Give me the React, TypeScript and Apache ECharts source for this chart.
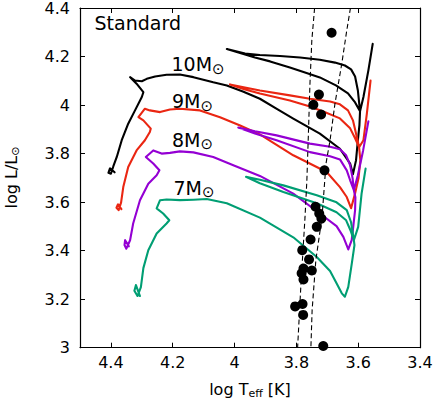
import React, { useEffect, useRef } from 'react';
import * as echarts from 'echarts';

// log Teff / log L tick values
const xTickValues = [3.4, 3.6, 3.8, 4.0, 4.2, 4.4];
const yTickValues = [3.0, 3.2, 3.4, 3.6, 3.8, 4.0, 4.2, 4.4];

// Evolutionary tracks [log Teff, log L/Lsun]
const track10: number[][] = [
  [4.388, 3.723], [4.403, 3.739], [4.408, 3.721], [4.4, 3.717], [4.392, 3.748], [4.381, 3.786],
  [4.365, 3.855], [4.344, 3.923], [4.322, 3.978], [4.3, 4.033], [4.295, 4.053], [4.317, 4.088],
  [4.333, 4.108], [4.338, 4.115], [4.322, 4.101], [4.3, 4.098], [4.284, 4.108], [4.257, 4.118],
  [4.22, 4.125], [4.177, 4.126], [4.133, 4.115], [4.069, 4.094], [4.025, 4.081], [3.973, 4.056],
  [3.918, 4.026], [3.866, 3.986], [3.81, 3.944], [3.724, 3.882], [3.659, 3.82], [3.626, 3.759],
  [3.617, 3.715], [3.607, 3.772], [3.601, 3.855], [3.596, 3.916], [3.594, 3.974], [3.61, 4.011],
  [3.633, 4.048], [3.672, 4.081], [3.724, 4.114], [3.772, 4.134], [3.821, 4.155], [3.885, 4.18],
  [3.934, 4.196], [3.982, 4.215], [4.025, 4.231], [3.966, 4.212], [3.918, 4.206], [3.853, 4.202],
  [3.788, 4.196], [3.724, 4.187], [3.675, 4.175], [3.643, 4.163], [3.623, 4.147], [3.61, 4.118],
  [3.601, 4.06], [3.594, 3.974], [3.583, 4.033], [3.567, 4.143], [3.553, 4.252]
];
const track9: number[][] = [
  [4.366, 3.571], [4.377, 3.591], [4.382, 3.577], [4.375, 3.567], [4.367, 3.599], [4.36, 3.662],
  [4.344, 3.745], [4.317, 3.813], [4.29, 3.855], [4.274, 3.889], [4.271, 3.903], [4.295, 3.937],
  [4.311, 3.95], [4.29, 3.985], [4.274, 3.978], [4.241, 3.971], [4.209, 3.982], [4.177, 3.985],
  [4.112, 3.978], [4.047, 3.95], [3.982, 3.916], [3.918, 3.879], [3.81, 3.793], [3.702, 3.724],
  [3.659, 3.662], [3.637, 3.621], [3.623, 3.575], [3.61, 3.636], [3.599, 3.698], [3.593, 3.772],
  [3.597, 3.826], [3.61, 3.863], [3.626, 3.904], [3.659, 3.945], [3.707, 3.97], [3.756, 3.994],
  [3.821, 4.019], [3.918, 4.048], [3.966, 4.064], [4.015, 4.085], [3.918, 4.06], [3.821, 4.04],
  [3.756, 4.026], [3.691, 4.015], [3.659, 4.003], [3.633, 3.978], [3.617, 3.937], [3.607, 3.883],
  [3.597, 3.826], [3.583, 3.855], [3.572, 3.964], [3.56, 4.101]
];
const track8: number[][] = [
  [4.342, 3.418], [4.354, 3.443], [4.356, 3.423], [4.35, 3.408], [4.338, 3.443], [4.328, 3.512],
  [4.306, 3.608], [4.279, 3.676], [4.252, 3.711], [4.243, 3.731], [4.263, 3.759], [4.287, 3.786],
  [4.263, 3.813], [4.236, 3.8], [4.209, 3.803], [4.177, 3.809], [4.133, 3.805], [4.069, 3.786],
  [4.004, 3.752], [3.918, 3.708], [3.81, 3.635], [3.724, 3.553], [3.67, 3.501], [3.648, 3.457],
  [3.632, 3.405], [3.621, 3.443], [3.616, 3.498], [3.61, 3.567], [3.609, 3.62], [3.614, 3.649],
  [3.626, 3.69], [3.637, 3.731], [3.659, 3.776], [3.691, 3.789], [3.756, 3.806], [3.864, 3.855],
  [3.934, 3.883], [3.988, 3.907], [3.934, 3.892], [3.864, 3.875], [3.756, 3.841], [3.691, 3.828],
  [3.659, 3.818], [3.639, 3.793], [3.626, 3.752], [3.618, 3.698], [3.614, 3.649], [3.601, 3.711],
  [3.584, 3.813], [3.567, 3.933]
];
const track7: number[][] = [
  [4.306, 3.213], [4.319, 3.258], [4.324, 3.235], [4.314, 3.213], [4.303, 3.25], [4.295, 3.328],
  [4.279, 3.402], [4.252, 3.471], [4.22, 3.512], [4.211, 3.525], [4.231, 3.553], [4.252, 3.574],
  [4.241, 3.608], [4.22, 3.611], [4.177, 3.608], [4.133, 3.61], [4.09, 3.613], [4.025, 3.595],
  [3.918, 3.536], [3.81, 3.455], [3.734, 3.374], [3.691, 3.316], [3.67, 3.266], [3.653, 3.224],
  [3.643, 3.21], [3.632, 3.251], [3.62, 3.353], [3.612, 3.423], [3.614, 3.443], [3.625, 3.484],
  [3.639, 3.525], [3.67, 3.558], [3.734, 3.595], [3.842, 3.642], [3.918, 3.678], [3.963, 3.704],
  [3.918, 3.692], [3.842, 3.669], [3.734, 3.628], [3.67, 3.599], [3.637, 3.567], [3.623, 3.517],
  [3.614, 3.443], [3.6, 3.498], [3.589, 3.635], [3.576, 3.738]
];

// Instability strip edges
const edgeBlue: number[][] = [
  [3.741, 4.4], [3.75, 4.266], [3.756, 4.089], [3.761, 3.883], [3.766, 3.69], [3.772, 3.538],
  [3.785, 3.266], [3.796, 3.0]
];
const edgeRed: number[][] = [
  [3.625, 4.4], [3.637, 4.307], [3.653, 4.171], [3.675, 4.007], [3.691, 3.855], [3.704, 3.76],
  [3.717, 3.538], [3.737, 3.361], [3.749, 3.155], [3.753, 3.0]
];

// Observed stars
const stars: number[][] = [
  [3.686, 4.298], [3.727, 4.043], [3.745, 4.001], [3.72, 3.961], [3.709, 3.731], [3.738, 3.581],
  [3.726, 3.553], [3.719, 3.532], [3.734, 3.498], [3.754, 3.446], [3.781, 3.402], [3.759, 3.364],
  [3.777, 3.326], [3.783, 3.307], [3.75, 3.318], [3.777, 3.281], [3.804, 3.17], [3.78, 3.18],
  [3.778, 3.135], [3.713, 3.007]
];

const massNames = ['10M', '9M', '8M', '7M'];
const panelTitle = 'Standard';

const FONT = 'DejaVu Sans';
const COLORS = ['#000000', '#ea2612', '#9400d3', '#009e73'];

export default function App() {
  const ref = useRef<HTMLDivElement>(null);
  useEffect(() => {
    const chart = echarts.init(ref.current as HTMLDivElement, null, { renderer: 'svg' });
    const fmt = (list: number[]) => (v: number) => {
      const hit = list.find((t) => Math.abs(t - v) < 1e-6);
      return hit === undefined ? '' : String(+hit.toFixed(1));
    };
    const axisCommon = {
      type: 'value',
      splitLine: { show: false },
      axisLine: { onZero: false, lineStyle: { color: '#000', width: 1.2 } },
      axisTick: { inside: true, length: 5, lineStyle: { color: '#000', width: 1 } },
    };
    const track = (data: number[][], color: string) => ({
      type: 'line', data, showSymbol: false, symbol: 'none', silent: true, z: 2,
      lineStyle: { color, width: 2.1, join: 'round', cap: 'round' }, itemStyle: { color },
    });
    const dashed = (data: number[][]) => ({
      type: 'line', data, showSymbol: false, symbol: 'none', silent: true, z: 3,
      lineStyle: { color: '#000', width: 1.1, type: [5, 3] },
    });
    const labelPos = [
      [171.5, 64], [172, 101.3], [172, 139.7], [173.5, 187.5]
    ];
    const massLabel = (name: string, i: number) => ({
      type: 'text', x: labelPos[i][0], y: labelPos[i][1], z: 10,
      style: {
        text: `{a|${name}}{b|\u2299}`,
        align: 'left', verticalAlign: 'middle', fill: '#000',
        rich: {
          a: { fontSize: 19, fontFamily: FONT, lineHeight: 24, fill: '#000' },
          b: { fontSize: 15, fontFamily: FONT, lineHeight: 13, verticalAlign: 'bottom', fill: '#000' },
        },
      },
    });
    chart.setOption({
      animation: false,
      grid: { left: 80, right: 16, top: 7.4, bottom: 54.3, containLabel: false },
      xAxis: [
        {
          ...axisCommon, min: 3.4, max: 4.5, interval: 0.2, inverse: true, position: 'bottom',
          axisLabel: { fontSize: 16, fontFamily: FONT, color: '#000', margin: 7, formatter: fmt(xTickValues) },
        },
        {
          ...axisCommon, min: 3.4, max: 4.5, interval: 0.2, inverse: true, position: 'top',
          axisLabel: { show: false },
        },
      ],
      yAxis: [
        {
          ...axisCommon, min: 3.0, max: 4.4, interval: 0.2, position: 'left',
          axisLabel: { fontSize: 16, fontFamily: FONT, color: '#000', margin: 10, formatter: fmt(yTickValues) },
        },
        {
          ...axisCommon, min: 3.0, max: 4.4, interval: 0.2, position: 'right',
          axisLabel: { show: false },
        },
      ],
      series: [
        track(track10, COLORS[0]),
        track(track9, COLORS[1]),
        track(track8, COLORS[2]),
        track(track7, COLORS[3]),
        dashed(edgeBlue),
        dashed(edgeRed),
        {
          type: 'scatter', data: stars, symbol: 'circle', symbolSize: 10, clip: false, z: 5,
          itemStyle: { color: '#000', opacity: 1 }, silent: true,
        },
      ],
      graphic: [
        {
          type: 'text', x: 94.5, y: 22.5, z: 10,
          style: { text: panelTitle, fontSize: 19, fontFamily: FONT, fill: '#000', align: 'left', verticalAlign: 'middle' },
        },
        ...massNames.map(massLabel),
        {
          type: 'text', x: 250, y: 389, z: 10,
          style: {
            text: '{a|log T}{b|eff}{a| [K]}', align: 'center', verticalAlign: 'middle', fill: '#000',
            rich: {
              a: { fontSize: 16, fontFamily: FONT, lineHeight: 20, fill: '#000' },
              b: { fontSize: 11, fontFamily: FONT, lineHeight: 12, verticalAlign: 'bottom', fill: '#000' },
            },
          },
        },
        {
          type: 'text', x: 11, y: 177.5, rotation: Math.PI / 2, z: 10,
          style: {
            text: '{a|log L/L}{b|\u2299}', align: 'center', verticalAlign: 'middle', fill: '#000',
            rich: {
              a: { fontSize: 16, fontFamily: FONT, lineHeight: 20, fill: '#000' },
              b: { fontSize: 11, fontFamily: FONT, lineHeight: 12, verticalAlign: 'bottom', fill: '#000' },
            },
          },
        },
      ],
    });
    return () => chart.dispose();
  }, []);
  return (
    <div
      ref={ref}
      style={{ position: 'absolute', left: 0, top: 0, width: 436, height: 402, background: '#fff' }}
    />
  );
}
